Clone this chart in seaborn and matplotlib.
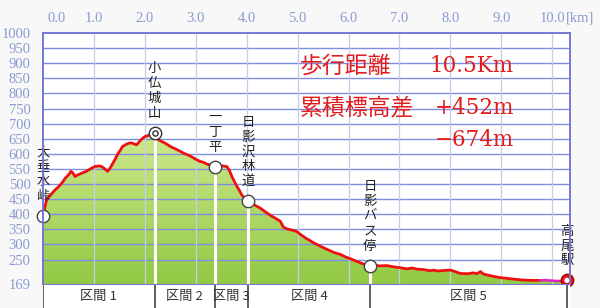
import numpy as np
import pandas as pd
import seaborn as sns
import matplotlib
matplotlib.use("Agg")
import matplotlib.pyplot as plt
from matplotlib.colors import LinearSegmentedColormap

# ---------------- data ----------------
dist_km = [0.00, 0.02, 0.04, 0.07, 0.12, 0.18, 0.24, 0.30, 0.37, 0.44, 0.50, 0.55, 0.58, 0.63,
           0.68, 0.76, 0.85, 0.93, 1.02, 1.10, 1.15, 1.20, 1.27, 1.33, 1.41, 1.47, 1.52, 1.56,
           1.62, 1.68, 1.74, 1.80, 1.84, 1.90, 1.96, 2.00, 2.06, 2.12, 2.19, 2.24, 2.27, 2.33,
           2.40, 2.45, 2.50, 2.58, 2.65, 2.70, 2.76, 2.85, 2.92, 3.00, 3.08, 3.15, 3.22, 3.30,
           3.38, 3.45, 3.52, 3.61, 3.66, 3.71, 3.76, 3.81, 3.86, 3.90, 3.96, 4.03, 4.10, 4.18,
           4.26, 4.35, 4.45, 4.55, 4.66, 4.72, 4.78, 4.88, 4.98, 5.05, 5.15, 5.25, 5.32, 5.40,
           5.51, 5.60, 5.72, 5.84, 5.95, 6.05, 6.16, 6.28, 6.42, 6.50, 6.60, 6.75, 6.88, 7.01,
           7.15, 7.25, 7.35, 7.47, 7.60, 7.67, 7.75, 7.88, 8.00, 8.10, 8.19, 8.35, 8.45, 8.52,
           8.59, 8.65, 8.80, 8.98, 9.10, 9.25, 9.44, 9.60, 9.76]
elev_m = [393, 410, 425, 448, 458, 470, 481, 490, 503, 520, 530, 542, 538, 525,
          530, 536, 542, 550, 558, 560, 558, 552, 542, 556, 580, 600, 612, 624,
          630, 635, 636, 632, 630, 642, 652, 657, 660, 666, 669, 655, 646, 641,
          635, 630, 624, 618, 612, 608, 602, 596, 590, 582, 575, 572, 566, 562,
          558, 560, 560, 558, 545, 525, 508, 492, 478, 465, 452, 443, 436, 428,
          421, 410, 398, 388, 377, 358, 352, 348, 343, 334, 322, 312, 305, 298,
          289, 282, 273, 267, 258, 252, 244, 236, 230, 232, 229, 230, 226, 223,
          219, 222, 218, 217, 213, 215, 212, 214, 215, 210, 204, 203, 206, 203,
          210, 202, 196, 190, 188, 185, 182, 181, 181]
# final (road) stretch drawn in magenta
end_km = [9.76, 9.85, 10.00, 10.10, 10.22, 10.29]
end_m = [181, 182, 180, 179, 179, 181]

wp_names = ["大垂水峠", "小仏城山", "一丁平", "日影沢林道", "日影バス停", "高尾駅"]
wp_km = [0.00, 2.19, 3.38, 4.03, 6.42, 10.29]
wp_m = [393, 669, 558, 443, 230, 181]

sections = ["区間 1", "区間 2", "区間 3", "区間 4", "区間 5"]

x_ticks = [0.0, 1.0, 2.0, 3.0, 4.0, 5.0, 6.0, 7.0, 8.0, 9.0, 10.0]
y_ticks = [169, 250, 300, 350, 400, 450, 500, 550, 600, 650, 700, 750, 800, 850, 900, 950, 1000]

summary_left = ["歩行距離", "累積標高差", ""]
summary_right = ["10.5Km", "+452m", "\u2212674m"]

# ---------------- style ----------------
sns.set_theme(style="white")
plt.rcParams["font.family"] = ["Noto Sans CJK JP", "DejaVu Sans"]

BLUE_TXT = "#8a9ad2"
FRAME = "#7676d6"
HGRID = "#7e8ee0"
VGRID = "#c6cde8"
RED = "#ee1111"

W, H = 600, 308
fig = plt.figure(figsize=(W / 100, H / 100), dpi=100, facecolor="#f8f8f8")

x0, x1 = 43, 570
y_top, y_bot = 33, 284
XMAX = 10.35
ax = fig.add_axes([x0 / W, 1 - y_bot / H, (x1 - x0) / W, (y_bot - y_top) / H])
ax.set_facecolor("white")
ax.set_xlim(0, XMAX)
ax.set_ylim(169, 1000)

df = pd.DataFrame({"km": dist_km + end_km[1:], "m": elev_m + end_m[1:]})

# gradient fill under the profile
poly = ax.fill_between(df["km"], 169, df["m"], color="none", zorder=1)
cmap = LinearSegmentedColormap.from_list("g", ["#92c944", "#cfe98e"])
grad = np.linspace(0, 1, 256).reshape(-1, 1)
img = ax.imshow(grad, cmap=cmap, origin="lower", aspect="auto",
                extent=[0, XMAX, 169, 680], zorder=1)
img.set_clip_path(poly.get_paths()[0], transform=ax.transData)
ax.set_xlim(0, XMAX)
ax.set_ylim(169, 1000)

# grid
for yv in y_ticks[1:-1]:
    ax.axhline(yv, color=HGRID, lw=1.0, zorder=2)
for xv in x_ticks[1:]:
    ax.axvline(xv, color=VGRID, lw=0.9, zorder=2)

# white drop lines at waypoints
ax.vlines(wp_km[1:5], 169, wp_m[1:5], color="white", lw=2.2, zorder=3)

# profile line
sns.lineplot(x=dist_km, y=elev_m, ax=ax, color=RED, lw=2.0, zorder=4, sort=False)
sns.lineplot(x=end_km, y=end_m, ax=ax, color="#e020c0", lw=1.8, zorder=4, sort=False)

# markers
ax.scatter([wp_km[i] for i in (0, 2, 3, 4)], [wp_m[i] for i in (0, 2, 3, 4)], s=80,
           facecolor="white", edgecolor="#444444", lw=1.0, zorder=6, clip_on=False)
ax.scatter([wp_km[1]], [wp_m[1]], s=80, facecolor="white", edgecolor="#333333", lw=1.0, zorder=6)
ax.scatter([wp_km[1]], [wp_m[1]], s=14, facecolor="white", edgecolor="#333333", lw=1.0, zorder=7)
ax.scatter([wp_km[5]], [wp_m[5]], s=80, facecolor="#e01818", edgecolor="#aa0000", lw=1.0,
           zorder=6, clip_on=False)
ax.scatter([wp_km[5]], [wp_m[5]], s=14, facecolor="white", edgecolor="none", zorder=7, clip_on=False)

# vertical waypoint labels
for name, k, m in zip(wp_names, wp_km, wp_m):
    ax.annotate("\n".join(name), xy=(k, m), xytext=(0, 13), textcoords="offset pixels",
                ha="center", va="bottom", fontsize=9.6, color="#222222", linespacing=1.08,
                zorder=8, annotation_clip=False)

# axis styling
for s in ["left", "top", "right", "bottom"]:
    ax.spines[s].set_color(FRAME)
    ax.spines[s].set_linewidth(1.4)
    ax.spines[s].set_zorder(9)
ax.spines["bottom"].set_linewidth(0.8)
ax.set_xticks([])
ax.set_yticks(y_ticks)
ax.set_yticklabels([str(v) for v in y_ticks])
ax.tick_params(axis="y", length=0, pad=9, labelsize=10.5, labelcolor=BLUE_TXT)
for lab in ax.get_yticklabels():
    lab.set_fontfamily(["Liberation Serif", "DejaVu Serif"])
ax.set_xlabel("")
ax.set_ylabel("")

# top km labels
for xv in x_ticks:
    dx = 14 if xv == 0 else 0
    ax.annotate(f"{xv:.1f}", xy=(xv, 1), xycoords=("data", "axes fraction"),
                xytext=(dx, 15), textcoords="offset pixels", ha="center", va="center",
                fontsize=10.5, color=BLUE_TXT, family=["Liberation Serif", "DejaVu Serif"],
                annotation_clip=False)
ax.annotate("[km]", xy=(10.0, 1), xycoords=("data", "axes fraction"),
            xytext=(14, 15), textcoords="offset pixels", ha="left", va="center",
            fontsize=10.5, color=BLUE_TXT, family=["Liberation Serif", "DejaVu Serif"],
            annotation_clip=False)

# summary text (red)
rows_y = [66, 108, 140]
for jp, num, yp in zip(summary_left, summary_right, rows_y):
    if jp:
        fig.text(300 / W, 1 - yp / H, jp, ha="left", va="center", fontsize=16.5, color="#e21c1c")
    fig.text(514 / W, 1 - yp / H, num, ha="right", va="center", fontsize=15.5, color="#e21c1c",
             family=["DejaVu Serif"])

# bottom section strip
sax = fig.add_axes([x0 / W, 0, (x1 - x0) / W, 23 / H], sharex=ax)
sax.set_facecolor("white")
sax.set_ylim(0, 1)
for s in sax.spines.values():
    s.set_visible(False)
sax.tick_params(left=False, bottom=False, labelleft=False, labelbottom=False)
sax.vlines(wp_km, 0, 1, color="#555555", lw=1.3)
for i, name in enumerate(sections):
    mid = (wp_km[i] + wp_km[i + 1]) / 2
    t = sax.text(mid, 0.5, name, ha="center", va="center", fontsize=9.5, color="#333333")
    t.set_clip_on(True)
ax.set_xlim(0, XMAX)

fig.savefig("out.png", dpi=100, facecolor=fig.get_facecolor())
